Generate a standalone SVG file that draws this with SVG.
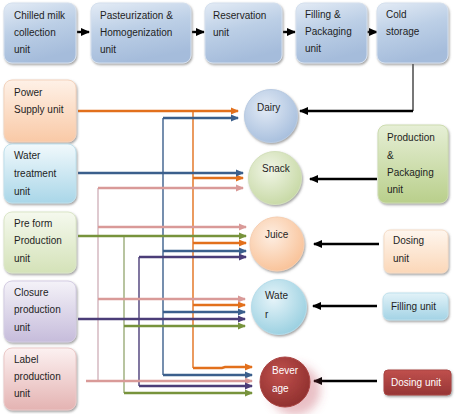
<svg xmlns="http://www.w3.org/2000/svg" width="455" height="414" viewBox="0 0 455 414">
<style>
text{font-family:"Liberation Sans",Arial,sans-serif;font-size:10px;fill:#1e1e1e}
.w{fill:#ffffff}
.box{stroke-width:1;filter:url(#sh)}
.src{fill:none;stroke-width:2.6}
.br{fill:none;stroke-width:2.4}
.tr{fill:none;stroke-width:1.4}
.or{stroke:#e2701c}.bl{stroke:#3b5f8c}.pk{stroke:#d99a98}.gr{stroke:#77933c}.pu{stroke:#4b3d78}
.blk{fill:none;stroke:#000;stroke-width:2.4}
</style>
<defs>
<filter id="sh" x="-10%" y="-10%" width="125%" height="130%"><feDropShadow dx="1" dy="1.5" stdDeviation="0.8" flood-color="#666" flood-opacity="0.6"/></filter>
<filter id="bsh" x="-30%" y="-30%" width="180%" height="180%"><feDropShadow dx="10" dy="8" stdDeviation="5" flood-color="#c04a5a" flood-opacity="0.35"/></filter>
<linearGradient id="gBlue" x1="0" y1="0" x2="0.3" y2="1"><stop offset="0" stop-color="#e3ebf5"/><stop offset="0.5" stop-color="#bccfe6"/><stop offset="1" stop-color="#a5bcdb"/></linearGradient>
<linearGradient id="gPeach" x1="0" y1="0" x2="0" y2="1"><stop offset="0" stop-color="#fef1e7"/><stop offset="1" stop-color="#f9c9a6"/></linearGradient>
<linearGradient id="gCyan" x1="0" y1="0" x2="0" y2="1"><stop offset="0" stop-color="#f1f9fc"/><stop offset="1" stop-color="#a9d6e8"/></linearGradient>
<linearGradient id="gGreen" x1="0" y1="0" x2="0" y2="1"><stop offset="0" stop-color="#f5f9ee"/><stop offset="1" stop-color="#d4e2b8"/></linearGradient>
<linearGradient id="gLav" x1="0" y1="0" x2="0" y2="1"><stop offset="0" stop-color="#f4f2f8"/><stop offset="1" stop-color="#c6bcdb"/></linearGradient>
<linearGradient id="gPink" x1="0" y1="0" x2="0" y2="1"><stop offset="0" stop-color="#fcf1f1"/><stop offset="1" stop-color="#e4b3b2"/></linearGradient>
<linearGradient id="gGreen2" x1="0" y1="0" x2="0" y2="1"><stop offset="0" stop-color="#e6efd6"/><stop offset="1" stop-color="#b9cf8b"/></linearGradient>
<linearGradient id="gPeach2" x1="0" y1="0" x2="0" y2="1"><stop offset="0" stop-color="#fef6ee"/><stop offset="1" stop-color="#fbd7b8"/></linearGradient>
<linearGradient id="gCyan2" x1="0" y1="0" x2="0" y2="1"><stop offset="0" stop-color="#e2f2f8"/><stop offset="1" stop-color="#a3d3e5"/></linearGradient>
<linearGradient id="gRed" x1="0" y1="0" x2="0" y2="1"><stop offset="0" stop-color="#c0504d"/><stop offset="1" stop-color="#963535"/></linearGradient>
<radialGradient id="cBlue" cx="0.4" cy="0.35" r="0.7"><stop offset="0" stop-color="#e2eaf5"/><stop offset="1" stop-color="#a6bedd"/></radialGradient>
<radialGradient id="cGreen" cx="0.4" cy="0.35" r="0.7"><stop offset="0" stop-color="#f0f5e6"/><stop offset="1" stop-color="#c6d8a3"/></radialGradient>
<radialGradient id="cPeach" cx="0.4" cy="0.35" r="0.7"><stop offset="0" stop-color="#fdeee2"/><stop offset="1" stop-color="#f9c196"/></radialGradient>
<radialGradient id="cCyan" cx="0.4" cy="0.35" r="0.7"><stop offset="0" stop-color="#e6f4f9"/><stop offset="1" stop-color="#98cfe0"/></radialGradient>
<radialGradient id="cRed" cx="0.4" cy="0.35" r="0.7"><stop offset="0" stop-color="#c0504d"/><stop offset="1" stop-color="#8e2f2d"/></radialGradient>
<marker id="aOr" markerWidth="8" markerHeight="8" refX="7" refY="4" orient="auto" markerUnits="userSpaceOnUse"><path d="M0,0.5 L8,4 L0,7.5z" fill="#e2701c"/></marker>
<marker id="aBl" markerWidth="8" markerHeight="8" refX="7" refY="4" orient="auto" markerUnits="userSpaceOnUse"><path d="M0,0.5 L8,4 L0,7.5z" fill="#3b5f8c"/></marker>
<marker id="aPk" markerWidth="8" markerHeight="8" refX="7" refY="4" orient="auto" markerUnits="userSpaceOnUse"><path d="M0,0.5 L8,4 L0,7.5z" fill="#d99a98"/></marker>
<marker id="aGr" markerWidth="8" markerHeight="8" refX="7" refY="4" orient="auto" markerUnits="userSpaceOnUse"><path d="M0,0.5 L8,4 L0,7.5z" fill="#77933c"/></marker>
<marker id="aPu" markerWidth="8" markerHeight="8" refX="7" refY="4" orient="auto" markerUnits="userSpaceOnUse"><path d="M0,0.5 L8,4 L0,7.5z" fill="#4b3d78"/></marker>
<marker id="aBk" markerWidth="9" markerHeight="9" refX="8" refY="4.5" orient="auto" markerUnits="userSpaceOnUse"><path d="M0,0.5 L9,4.5 L0,8.5z" fill="#000"/></marker>
</defs>
<rect width="455" height="414" fill="#ffffff"/>

<g id="connectors">
<!-- top chain arrows -->
<line class="blk" x1="77" y1="32" x2="89" y2="32" marker-end="url(#aBk)"/>
<line class="blk" x1="192" y1="32" x2="204" y2="32" marker-end="url(#aBk)"/>
<line class="blk" x1="283" y1="32" x2="295" y2="32" marker-end="url(#aBk)"/>
<line class="blk" x1="367" y1="32" x2="377" y2="32" marker-end="url(#aBk)"/>
<!-- right side arrows -->
<path d="M413,64 V111" fill="none" stroke="#555" stroke-width="1.6"/>
<path class="blk" d="M413,111 H300" marker-end="url(#aBk)"/>
<path class="blk" d="M377,179 H310" marker-end="url(#aBk)"/>
<path class="blk" d="M379,244 H314" marker-end="url(#aBk)"/>
<path class="blk" d="M377,306 H313" marker-end="url(#aBk)"/>
<path class="blk" d="M377,381 H314" marker-end="url(#aBk)"/>

<!-- trunks -->
<path class="tr or" d="M193,111 V368"/>
<path class="tr bl" d="M163,118 V375"/>
<path class="tr pk" d="M98,188 V381" style="stroke:#d2b4bc"/>
<path class="tr gr" d="M124,236 V393" style="stroke:#9aab78"/>
<path class="tr pu" d="M139,257 V386"/>

<!-- orange (Power) -->
<path class="src or" d="M78,111 H238" marker-end="url(#aOr)"/>
<path class="br or" d="M193,178 H243" marker-end="url(#aOr)"/>
<path class="br or" d="M193,243 H246" marker-end="url(#aOr)"/>
<path class="br or" d="M193,305 H245" marker-end="url(#aOr)"/>
<path class="br or" d="M193,368 H222 L225,367 H252" marker-end="url(#aOr)"/>
<!-- blue (Water treatment) -->
<path class="src bl" d="M78,173 H243" marker-end="url(#aBl)"/>
<path class="br bl" d="M163,118 H238" marker-end="url(#aBl)"/>
<path class="br bl" d="M163,251 H246" marker-end="url(#aBl)"/>
<path class="br bl" d="M163,312 H245" marker-end="url(#aBl)"/>
<path class="br bl" d="M163,375 H252" marker-end="url(#aBl)"/>
<!-- pink (Label) -->
<path class="src pk" d="M86,381 H252" marker-end="url(#aPk)"/>
<path class="br pk" d="M98,188 H243" marker-end="url(#aPk)"/>
<path class="br pk" d="M98,227 H246" marker-end="url(#aPk)"/>
<path class="br pk" d="M98,299 H245" marker-end="url(#aPk)"/>
<!-- green (Pre form) -->
<path class="src gr" d="M78,236 H246" marker-end="url(#aGr)"/>
<path class="br gr" d="M124,326 H245" marker-end="url(#aGr)"/>
<path class="br gr" d="M124,393 H252" marker-end="url(#aGr)"/>
<!-- purple (Closure) -->
<path class="src pu" d="M78,319 H245" marker-end="url(#aPu)"/>
<path class="br pu" d="M139,257 H246" marker-end="url(#aPu)"/>
<path class="br pu" d="M139,386 H252" marker-end="url(#aPu)"/>
</g>

<!-- top row -->
<g id="chilled"><rect class="box" x="4" y="3" width="72" height="60" rx="8" fill="url(#gBlue)" stroke="#d5e0ee"/>
<text x="14" y="19">Chilled milk</text><text x="14" y="36">collection</text><text x="14" y="53">unit</text></g>
<g id="pasteurization"><rect class="box" x="91" y="3" width="100" height="60" rx="8" fill="url(#gBlue)" stroke="#d5e0ee"/>
<text x="100" y="19">Pasteurization &amp;</text><text x="100" y="36">Homogenization</text><text x="100" y="53">unit</text></g>
<g id="reservation"><rect class="box" x="205" y="3" width="77" height="60" rx="8" fill="url(#gBlue)" stroke="#d5e0ee"/>
<text x="213" y="19">Reservation</text><text x="213" y="36">unit</text></g>
<g id="filling-packaging"><rect class="box" x="296" y="3" width="71" height="60" rx="8" fill="url(#gBlue)" stroke="#d5e0ee"/>
<text x="305" y="18">Filling &amp;</text><text x="305" y="35">Packaging</text><text x="305" y="52">unit</text></g>
<g id="cold-storage"><rect class="box" x="377" y="3" width="71" height="60" rx="8" fill="url(#gBlue)" stroke="#d5e0ee"/>
<text x="386" y="18">Cold</text><text x="386" y="35">storage</text></g>

<!-- left column -->
<g id="power"><rect class="box" x="4" y="80" width="72" height="62" rx="8" fill="url(#gPeach)" stroke="#f3d3bd"/>
<text x="14" y="96">Power</text><text x="14" y="113">Supply unit</text></g>
<g id="water-treatment"><rect class="box" x="4" y="144" width="72" height="59" rx="8" fill="url(#gCyan)" stroke="#bfe0ec"/>
<text x="14" y="159">Water</text><text x="14" y="177">treatment</text><text x="14" y="195">unit</text></g>
<g id="preform"><rect class="box" x="4" y="212" width="72" height="61" rx="8" fill="url(#gGreen)" stroke="#dbe6c8"/>
<text x="14" y="227">Pre form</text><text x="14" y="244">Production</text><text x="14" y="262">unit</text></g>
<g id="closure"><rect class="box" x="4" y="281" width="72" height="61" rx="8" fill="url(#gLav)" stroke="#d4cde3"/>
<text x="14" y="296">Closure</text><text x="14" y="313">production</text><text x="14" y="331">unit</text></g>
<g id="label"><rect class="box" x="4" y="348" width="72" height="62" rx="8" fill="url(#gPink)" stroke="#ebc9c8"/>
<text x="14" y="363">Label</text><text x="14" y="380">production</text><text x="14" y="397">unit</text></g>

<!-- circles -->
<g id="dairy"><circle cx="271" cy="116" r="26.5" fill="url(#cBlue)" stroke="#b9cbe2" filter="url(#sh)"/><text x="257" y="111">Dairy</text></g>
<g id="snack"><circle cx="275" cy="178" r="26.5" fill="url(#cGreen)" stroke="#d3e0bb" filter="url(#sh)"/><text x="262" y="172">Snack</text></g>
<g id="juice"><circle cx="277" cy="244" r="27" fill="url(#cPeach)" stroke="#f6cfb2" filter="url(#sh)"/><text x="265" y="238">Juice</text></g>
<g id="water"><circle cx="279" cy="307" r="27.5" fill="url(#cCyan)" stroke="#b4dcea" filter="url(#sh)"/><text x="265" y="299">Wate</text><text x="265" y="318">r</text></g>
<g id="beverage"><circle cx="285" cy="382" r="25" fill="url(#cRed)" stroke="#a94442" filter="url(#bsh)"/><text class="w" x="272" y="374">Bever</text><text class="w" x="272" y="392">age</text></g>

<!-- right column -->
<g id="production-packaging"><rect class="box" x="378" y="125" width="70" height="78" rx="8" fill="url(#gGreen2)" stroke="#cddcb0"/>
<text x="387" y="141">Production</text><text x="387" y="159">&amp;</text><text x="387" y="176">Packaging</text><text x="387" y="193">unit</text></g>
<g id="dosing-juice"><rect class="box" x="384" y="230" width="64" height="43" rx="6" fill="url(#gPeach2)" stroke="#f5dcc6"/>
<text x="393" y="244">Dosing</text><text x="393" y="262">unit</text></g>
<g id="filling-unit"><rect class="box" x="383" y="293" width="65" height="27" rx="6" fill="url(#gCyan2)" stroke="#bfe1ed"/>
<text x="391" y="310">Filling unit</text></g>
<g id="dosing-beverage"><rect class="box" x="384" y="370" width="67" height="25" rx="4" fill="url(#gRed)" stroke="#a94442"/>
<text class="w" x="391" y="386">Dosing unit</text></g>
</svg>
